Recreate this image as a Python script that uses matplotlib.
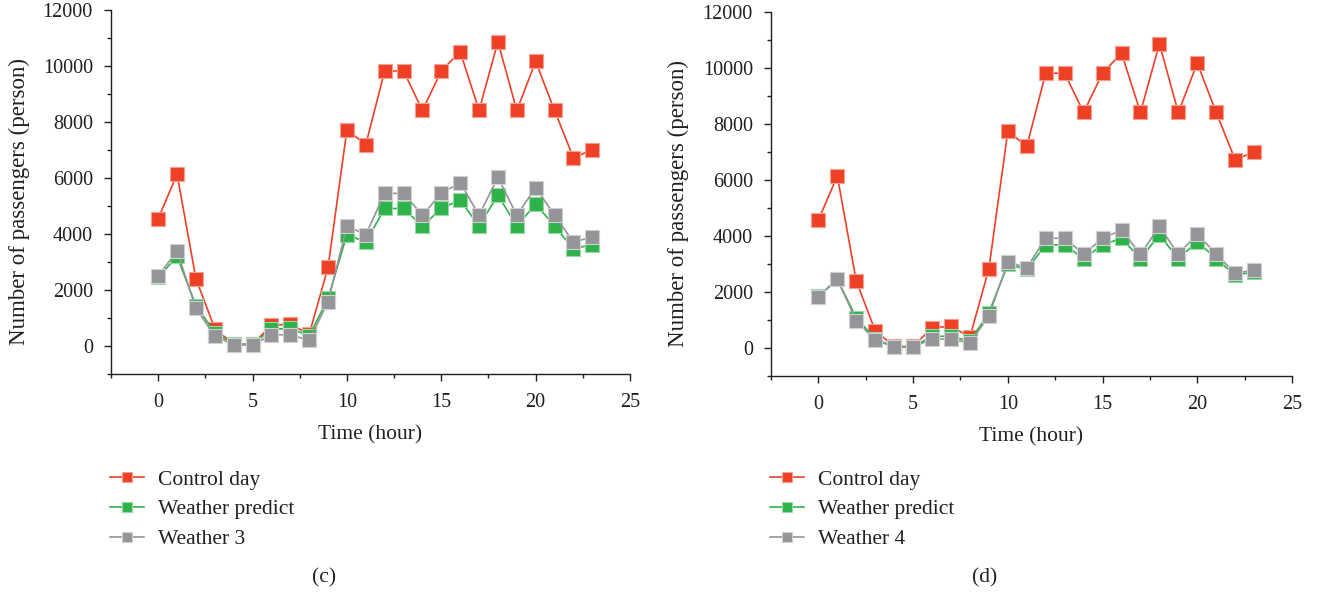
#!/usr/bin/env python3
import matplotlib
matplotlib.use("Agg")
import matplotlib.pyplot as plt
from matplotlib.ticker import MultipleLocator

hours = list(range(24))

# panel (c)
control_c = [4550, 6130, 2400, 620, 60, 60, 740, 780, 420, 2810, 7720, 7190,
             9820, 9820, 8410, 9820, 10510, 8410, 10860, 8410, 10160, 8410, 6720, 7010]
predict_c = [2460, 3200, 1440, 480, 60, 60, 600, 630, 360, 1700, 3980, 3710,
             4910, 4910, 4280, 4910, 5210, 4280, 5390, 4280, 5070, 4280, 3470, 3620]
weather3 = [2510, 3390, 1340, 360, 40, 40, 400, 400, 200, 1580, 4280, 3980,
            5450, 5450, 4670, 5450, 5830, 4670, 6020, 4670, 5650, 4670, 3710, 3890]

# panel (d)
control_d = [4570, 6140, 2390, 620, 60, 60, 720, 780, 390, 2830, 7740, 7200,
             9810, 9810, 8410, 9810, 10530, 8410, 10860, 8410, 10170, 8410, 6720, 7000]
predict_d = [1850, 2450, 1080, 330, 40, 40, 420, 420, 240, 1260, 2990, 2810,
             3680, 3680, 3190, 3680, 3920, 3190, 4040, 3190, 3800, 3190, 2600, 2720]
weather4 = [1830, 2450, 980, 280, 40, 40, 320, 320, 180, 1140, 3070, 2870,
            3920, 3920, 3350, 3920, 4210, 3350, 4340, 3350, 4070, 3350, 2670, 2780]

RED = "#ee4027"
GREEN = "#2db34a"
GRAY = "#939598"
INK = "#231f20"

plt.rcParams['font.family'] = ['Liberation Serif', 'DejaVu Serif']

fig = plt.figure(figsize=(13.2, 5.95), dpi=100)


def panel(rect, control, predict, other, other_label, caption):
    ax = fig.add_axes(rect)
    style = dict(marker='s', markersize=9.5, linewidth=1.2, markeredgewidth=0.8)
    l1, = ax.plot(hours, control, color=RED, markeredgecolor="#f7a08f", label="Control day", **style)
    l2, = ax.plot(hours, predict, color=GREEN, markeredgecolor="#9ad9a5", label="Weather predict", **style)
    l3, = ax.plot(hours, other, color=GRAY, markeredgecolor="#cfd0d2", label=other_label, **style)
    ax.set_xlim(-2.5, 25)
    ax.set_ylim(-1000, 12000)
    ax.xaxis.set_major_locator(MultipleLocator(5))
    ax.xaxis.set_minor_locator(MultipleLocator(2.5))
    ax.set_yticks(range(0, 12001, 2000))
    ax.yaxis.set_minor_locator(MultipleLocator(1000))
    for s in ('top', 'right'):
        ax.spines[s].set_visible(False)
    for s in ('left', 'bottom'):
        ax.spines[s].set_color(INK)
        ax.spines[s].set_linewidth(1.0)
    ax.tick_params(which='major', direction='out', length=5, width=1.0, colors=INK, labelsize=14.5)
    ax.tick_params(which='minor', direction='out', length=3, width=1.0, colors=INK)
    ax.tick_params(axis='x', pad=9)
    ax.tick_params(axis='y', pad=8)
    ax.set_xlabel("Time (hour)", fontsize=15.5, color=INK, labelpad=9)
    ax.set_ylabel("Number of passengers (person)", fontsize=16.5, color=INK)
    ax.yaxis.set_label_coords(-0.157, 0.475)
    x0 = rect[0]
    fig.legend(handles=[l1, l2, l3], loc='upper left', bbox_to_anchor=(x0 - 0.001, 0.211),
               frameon=False, fontsize=15.5, handlelength=1.6, labelspacing=0.45,
               handletextpad=0.65, borderaxespad=0, borderpad=0, labelcolor=INK,
               markerscale=0.75)
    fig.text(x0 + rect[2] * 0.41, 0.0286, caption, ha='center', va='center', fontsize=15.5, color=INK)
    return ax


panel([0.0841, 0.3714, 0.3932, 0.612], control_c, predict_c, weather3, "Weather 3", "(c)")
panel([0.5841, 0.368, 0.3947, 0.612], control_d, predict_d, weather4, "Weather 4", "(d)")

fig.savefig("out.png", dpi=100)
